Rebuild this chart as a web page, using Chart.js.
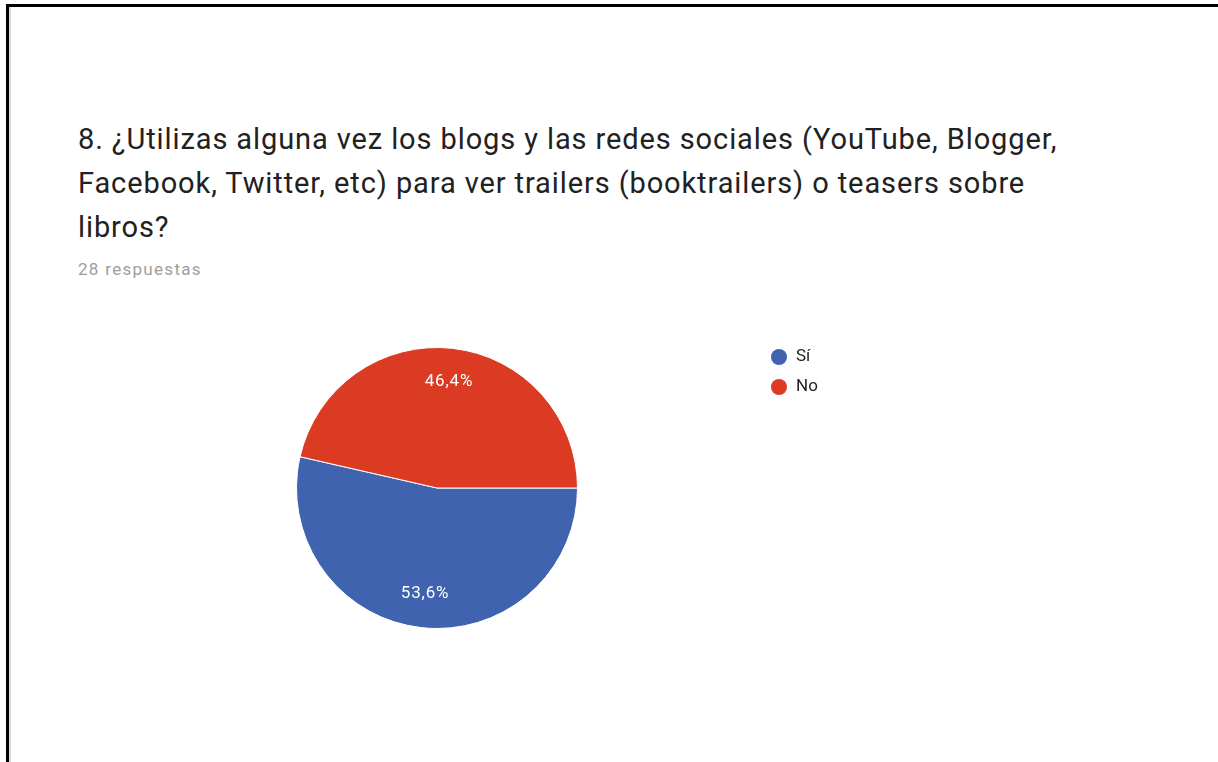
<!DOCTYPE html>
<html>
<head>
<meta charset="utf-8">
<script src="https://cdn.jsdelivr.net/npm/chart.js@4"></script>
<style>
  html, body { margin: 0; padding: 0; background: #fff; }
  body { width: 1218px; height: 762px; position: relative; overflow: hidden; font-family: Roboto, Arial, sans-serif; }
  .frame { position: absolute; left: 6px; top: 4px; width: 1230px; height: 800px; border-left: 3px solid #000; border-top: 3px solid #000; box-shadow: inset 2px 0 0 #d8d8de; }
  .title { position: absolute; left: 78px; top: 117px; width: 1000px; font-size: 29px; letter-spacing: 0.9px; line-height: 44px; color: #212121; }
  .count { position: absolute; left: 78px; top: 259px; font-size: 17px; letter-spacing: 1.3px; color: #9e9e9e; }
  canvas { position: absolute; left: 0; top: 0; }
</style>
</head>
<body>
<div class="frame"></div>
<div class="title">8. ¿Utilizas alguna vez los blogs y las redes sociales (YouTube, Blogger, Facebook, Twitter, etc) para ver trailers (booktrailers) o teasers sobre libros?</div>
<div class="count">28 respuestas</div>
<canvas id="chart" width="1218" height="762"></canvas>
<script>
const labels = ['Sí', 'No'];
const answers = [15, 13];
const colors = ['#3f63af', '#da3b22'];

// percentage text inside each slice, at 3/4 of the radius
const sliceLabels = {
  id: 'sliceLabels',
  afterDatasetsDraw(chart) {
    const ctx = chart.ctx;
    const meta = chart.getDatasetMeta(0);
    const total = answers.reduce((a, b) => a + b, 0);
    ctx.save();
    ctx.font = '17px Roboto, Arial, sans-serif';
    ctx.letterSpacing = '0.8px';
    ctx.fillStyle = '#ffffff';
    ctx.textAlign = 'center';
    ctx.textBaseline = 'middle';
    meta.data.forEach((arc, i) => {
      const p = arc.getProps(['x', 'y', 'startAngle', 'endAngle', 'outerRadius'], true);
      const mid = (p.startAngle + p.endAngle) / 2;
      const r = p.outerRadius * 0.76;
      const pct = (answers[i] / total * 100).toFixed(1).replace('.', ',') + '%';
      ctx.fillText(pct, p.x + Math.cos(mid) * r, p.y + Math.sin(mid) * r);
    });
    ctx.restore();
  }
};

// legend to the right of the pie, round markers
const sideLegend = {
  id: 'sideLegend',
  afterDraw(chart, args, opts) {
    const ctx = chart.ctx;
    ctx.save();
    ctx.font = '17px Roboto, Arial, sans-serif';
    ctx.textBaseline = 'middle';
    labels.forEach((label, i) => {
      const y = opts.y + i * opts.step;
      ctx.beginPath();
      ctx.arc(opts.x, y, 8, 0, Math.PI * 2);
      ctx.fillStyle = colors[i];
      ctx.fill();
      ctx.fillStyle = '#222222';
      ctx.fillText(label, opts.x + 17, y);
    });
    ctx.restore();
  }
};

new Chart(document.getElementById('chart'), {
  type: 'pie',
  data: {
    labels: labels,
    datasets: [{
      data: answers,
      backgroundColor: colors,
      borderColor: '#ffffff',
      borderWidth: 1,
      hoverOffset: 0
    }]
  },
  options: {
    responsive: false,
    animation: false,
    rotation: 90,
    layout: { padding: { left: 296, top: 346, right: 640, bottom: 132 } },
    plugins: {
      legend: { display: false },
      tooltip: { enabled: false },
      sideLegend: { x: 779, y: 357, step: 30 }
    }
  },
  plugins: [sliceLabels, sideLegend]
});
</script>
</body>
</html>
